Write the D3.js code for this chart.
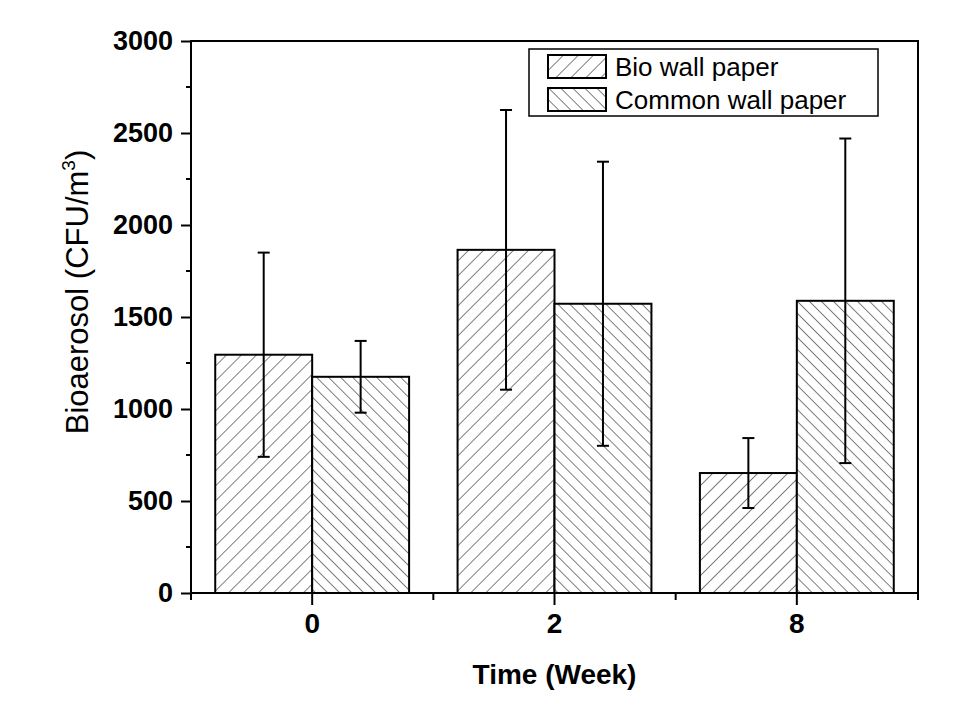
<!DOCTYPE html>
<html><head><meta charset="utf-8">
<script src="https://cdn.jsdelivr.net/npm/d3@7"></script>
<style>body{margin:0;background:#fff}svg{display:block}</style>
</head><body>
<svg id="c" width="960" height="720"></svg>
<script>
const categories = ["0", "2", "8"];
const seriesNames = ["Bio wall paper", "Common wall paper"];
const bioValues = [1295, 1865, 652];
const bioErrors = [555, 760, 190];
const commonValues = [1175, 1572, 1588];
const commonErrors = [195, 772, 882];
const yTicks = [0, 500, 1000, 1500, 2000, 2500, 3000];

const svg = d3.select("#c");
const L = 191, R = 918, T = 41, B = 593;
const x = d3.scaleBand().domain(categories).range([L, R]).paddingInner(0).paddingOuter(0);
const bw = x.bandwidth();
const xs = d3.scaleBand().domain(seriesNames).range([bw * 0.1, bw * 0.9]).padding(0);
const y = d3.scaleLinear().domain([0, 3000]).range([B, T]);

const defs = svg.append("defs");
function hatch(id, spacing, angle) {
  const p = defs.append("pattern").attr("id", id).attr("patternUnits", "userSpaceOnUse")
    .attr("width", spacing).attr("height", spacing).attr("patternTransform", `rotate(${angle})`);
  p.append("rect").attr("width", spacing).attr("height", spacing).attr("fill", "#fff");
  p.append("line").attr("x1", 0).attr("y1", 0).attr("x2", 0).attr("y2", spacing)
    .attr("stroke", "#000").attr("stroke-width", 1);
}
hatch("hBio", 10.6, 45);
hatch("hCom", 8.5, -45);
const fills = ["url(#hBio)", "url(#hCom)"];

const data = categories.map((c, i) => ({
  cat: c,
  vals: [
    { s: seriesNames[0], v: bioValues[i], e: bioErrors[i], k: 0 },
    { s: seriesNames[1], v: commonValues[i], e: commonErrors[i], k: 1 }
  ]
}));

const g = svg.append("g");
const grp = g.selectAll("g.cat").data(data).join("g").attr("transform", d => `translate(${x(d.cat)},0)`);
grp.selectAll("rect").data(d => d.vals).join("rect")
  .attr("x", d => xs(d.s)).attr("width", xs.bandwidth())
  .attr("y", d => y(d.v)).attr("height", d => y(0) - y(d.v))
  .attr("fill", d => fills[d.k]).attr("stroke", "#000").attr("stroke-width", 2);

// error bars
const eb = grp.selectAll("g.eb").data(d => d.vals).join("g")
  .attr("stroke", "#000").attr("stroke-width", 2);
const cx = d => xs(d.s) + xs.bandwidth() / 2;
eb.append("line").attr("x1", cx).attr("x2", cx)
  .attr("y1", d => y(d.v - d.e)).attr("y2", d => y(d.v + d.e));
eb.append("line").attr("x1", d => cx(d) - 6).attr("x2", d => cx(d) + 6)
  .attr("y1", d => y(d.v + d.e)).attr("y2", d => y(d.v + d.e));
eb.append("line").attr("x1", d => cx(d) - 6).attr("x2", d => cx(d) + 6)
  .attr("y1", d => y(d.v - d.e)).attr("y2", d => y(d.v - d.e));

// frame
svg.append("rect").attr("x", L).attr("y", T).attr("width", R - L).attr("height", B - T)
  .attr("fill", "none").attr("stroke", "#000").attr("stroke-width", 2);

// y axis
const yAxis = svg.append("g").attr("transform", `translate(${L},0)`)
  .call(d3.axisLeft(y).tickValues(yTicks).tickSize(10).tickPadding(8).tickFormat(d3.format("d")));
yAxis.select(".domain").remove();
yAxis.selectAll(".tick line").attr("stroke-width", 2);
yAxis.selectAll("text").attr("font-family", "Liberation Sans, Arial, sans-serif")
  .attr("font-weight", "bold").attr("font-size", 27).attr("fill", "#000");
const yMinor = d3.range(250, 3000, 500);
svg.append("g").selectAll("line").data(yMinor).join("line")
  .attr("x1", L - 5).attr("x2", L).attr("y1", d => y(d)).attr("y2", d => y(d))
  .attr("stroke", "#000").attr("stroke-width", 2);

// x axis
const xAxis = svg.append("g").attr("transform", `translate(0,${B})`)
  .call(d3.axisBottom(x).tickSize(12).tickPadding(8));
xAxis.select(".domain").remove();
xAxis.selectAll(".tick line").attr("stroke-width", 2);
xAxis.selectAll("text").attr("font-family", "Liberation Sans, Arial, sans-serif")
  .attr("font-weight", "bold").attr("font-size", 28).attr("fill", "#000");
const xMinor = categories.map(c => x(c)).concat([R]);
svg.append("g").selectAll("line").data(xMinor).join("line")
  .attr("x1", d => d).attr("x2", d => d).attr("y1", B).attr("y2", B + 7)
  .attr("stroke", "#000").attr("stroke-width", 2);

// axis titles
svg.append("text").attr("x", (L + R) / 2).attr("y", 684).attr("text-anchor", "middle")
  .attr("font-family", "Liberation Sans, Arial, sans-serif").attr("font-weight", "bold")
  .attr("font-size", 28).text("Time (Week)");
const yt = svg.append("text").attr("transform", `translate(88,${(T + B) / 2 - 25}) rotate(-90)`)
  .attr("text-anchor", "middle").attr("font-family", "Liberation Sans, Arial, sans-serif")
  .attr("font-size", 31);
yt.append("tspan").text("Bioaerosol (CFU/m");
yt.append("tspan").attr("font-size", 19).attr("dy", -13).text("3");
yt.append("tspan").attr("dy", 13).text(")");

// legend
const lg = svg.append("g");
lg.append("rect").attr("x", 529).attr("y", 49).attr("width", 349).attr("height", 67)
  .attr("fill", "#fff").attr("stroke", "#000").attr("stroke-width", 1.5);
const li = lg.selectAll("g.li").data(seriesNames).join("g")
  .attr("transform", (d, i) => `translate(548,${55 + i * 33})`);
li.append("rect").attr("width", 58).attr("height", 23).attr("fill", (d, i) => fills[i])
  .attr("stroke", "#000").attr("stroke-width", 2);
li.append("text").attr("x", 67).attr("y", 21).attr("font-family", "Liberation Sans, Arial, sans-serif")
  .attr("font-size", 26).text(d => d);
</script>
</body></html>
